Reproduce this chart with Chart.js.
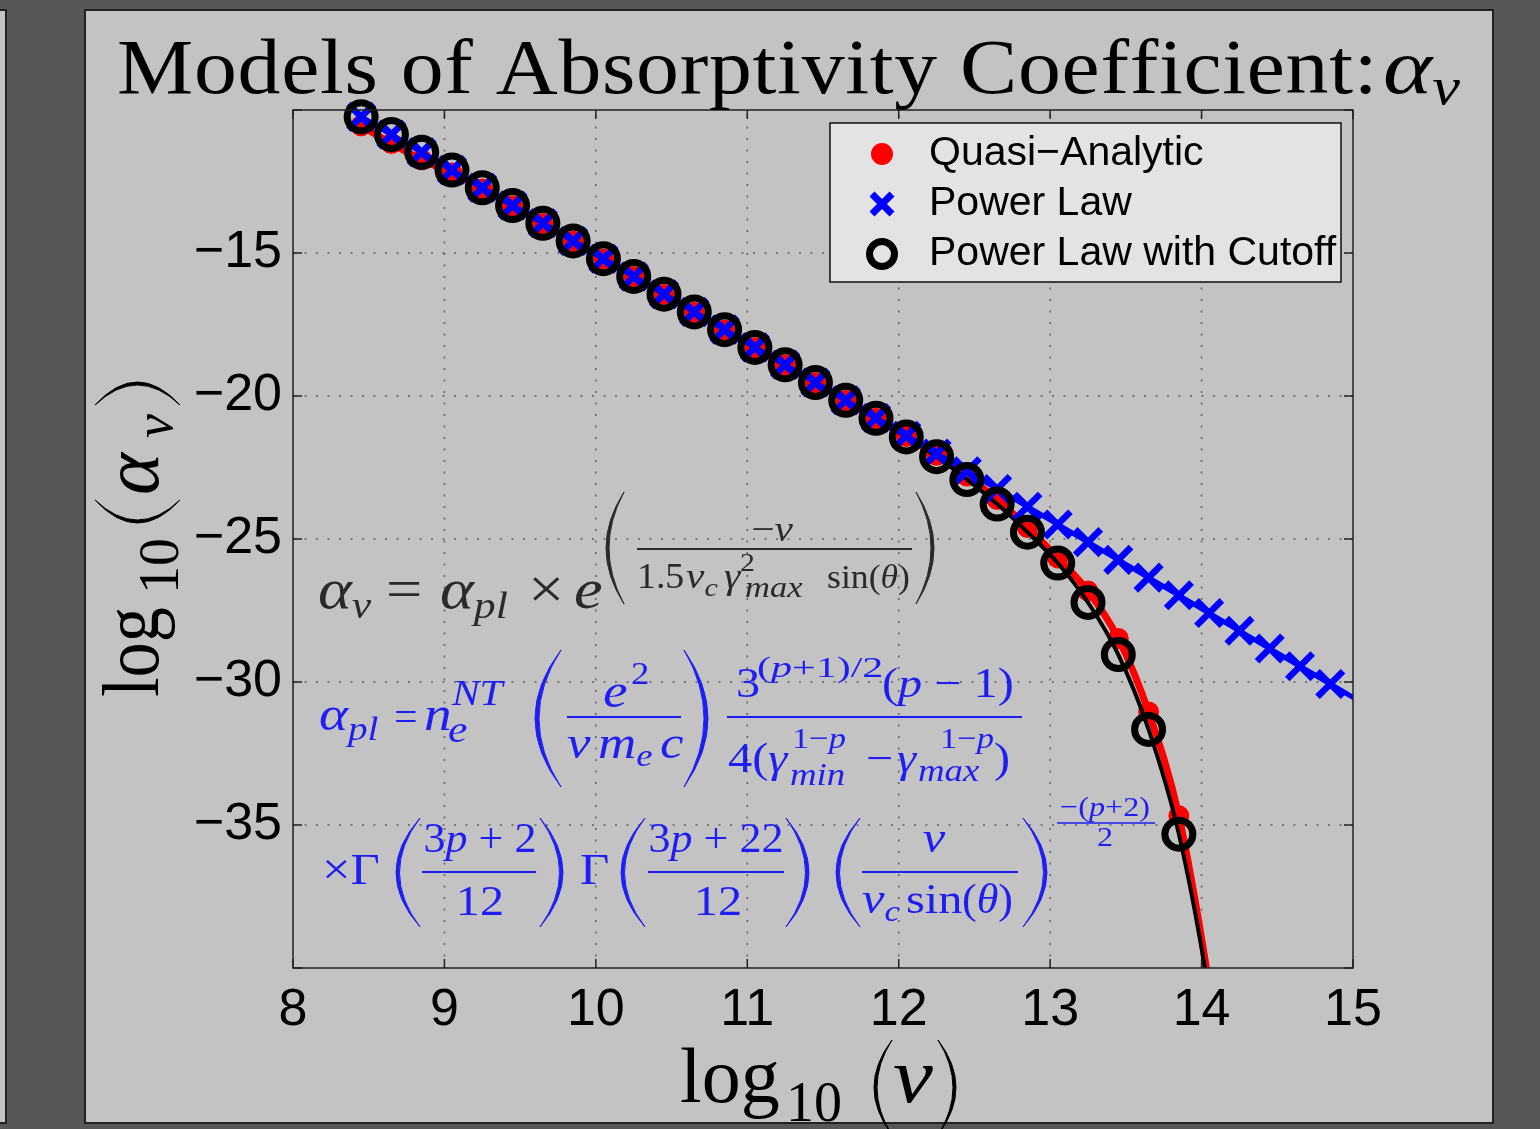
<!DOCTYPE html>
<html>
<head>
<meta charset="utf-8">
<script src="https://cdn.jsdelivr.net/npm/chart.js@4.4.1/dist/chart.umd.min.js"></script>
<style>
  html, body { margin: 0; padding: 0; background: #575757; }
  canvas { display: block; }
</style>
</head>
<body>
<canvas id="myChart" width="1540" height="1129"></canvas>
<script>
'use strict';

// log10(nu) at the marker positions
let nuMarks = [8.45, 8.65, 8.85, 9.05, 9.25, 9.45, 9.65, 9.85, 10.05, 10.25, 10.45,
  10.65, 10.85, 11.05, 11.25, 11.45, 11.65, 11.85, 12.05, 12.25, 12.45, 12.65,
  12.85, 13.05, 13.25, 13.45, 13.65, 13.85, 14.05, 14.25, 14.45, 14.65, 14.85];

// log10(alpha_nu)
let powerLaw = [-10.24, -10.86, -11.48, -12.10, -12.72, -13.34, -13.96, -14.58, -15.20,
  -15.82, -16.44, -17.06, -17.68, -18.30, -18.91, -19.53, -20.15, -20.77, -21.39,
  -22.01, -22.63, -23.25, -23.87, -24.49, -25.11, -25.73, -26.35, -26.97, -27.59,
  -28.21, -28.83, -29.45, -30.07];
let quasiAnalytic = [-10.55, -11.17, -11.74, -12.20, -12.76, -13.36, -13.97, -14.59,
  -15.21, -15.83, -16.45, -17.07, -17.69, -18.31, -18.92, -19.54, -20.16, -20.79,
  -21.42, -22.07, -22.80, -23.62, -24.60, -25.66, -26.82, -28.48, -31.05, -34.68];
let cutoff = [-10.24, -10.86, -11.48, -12.10, -12.72, -13.34, -13.96, -14.58, -15.20,
  -15.82, -16.44, -17.06, -17.68, -18.30, -18.91, -19.53, -20.15, -20.78, -21.43,
  -22.12, -22.92, -23.78, -24.76, -25.84, -27.22, -29.04, -31.66, -35.32];

// the curves run on past the last marker and leave the axes
let powerLawTailX = [15.05];
let powerLawTail = [-30.69];
let cutoffTailX = [14.05, 14.25];
let quasiAnalyticTail = [-40.6, -48.0];
let cutoffTail = [-40.9, -48.6];

let xTicks = [8, 9, 10, 11, 12, 13, 14, 15];
let yTicks = [-40, -35, -30, -25, -20, -15, -10];

let legendNames = ['Quasi\u2212Analytic', 'Power Law', 'Power Law with Cutoff'];

function toPoints(xs, ys) {
  let pts = [];
  for (let i = 0; i < ys.length; i++) {
    pts.push({ x: xs[i], y: ys[i] });
  }
  return pts;
}

let plPoints = toPoints(nuMarks, powerLaw);
let qaPoints = toPoints(nuMarks, quasiAnalytic);
let coPoints = toPoints(nuMarks, cutoff);
let plLine = plPoints.concat(toPoints(powerLawTailX, powerLawTail));
let qaLine = qaPoints.concat(toPoints(cutoffTailX, quasiAnalyticTail));
let coLine = coPoints.concat(toPoints(cutoffTailX, cutoffTail));

const SERIF = '"Liberation Serif", "Times New Roman", serif';
const SANS = '"Liberation Sans", Arial, sans-serif';
const EQ1 = '#2a2a2a';
const EQ2 = '#1e1ef2';
let stretch = 1.15;

function serif(size, italic) {
  return (italic ? 'italic ' : '') + size + 'px ' + SERIF;
}

// parts: [text, size, italic, dy, sx]; text is widened like TeX glyphs
function run(ctx, x, y, parts, color, align) {
  let w = 0;
  for (let p of parts) {
    ctx.font = serif(p[1], p[2]);
    w += ctx.measureText(p[0]).width * (p[4] || stretch);
  }
  let cx = align === 'center' ? x - w / 2 : x;
  ctx.fillStyle = color;
  ctx.textAlign = 'left';
  ctx.textBaseline = 'alphabetic';
  for (let p of parts) {
    let sx = p[4] || stretch;
    ctx.font = serif(p[1], p[2]);
    ctx.save();
    ctx.translate(cx, y + (p[3] || 0));
    ctx.scale(sx, 1);
    ctx.fillText(p[0], 0, 0);
    ctx.restore();
    cx += ctx.measureText(p[0]).width * sx;
  }
  return cx;
}

function hline(ctx, x0, x1, y, color, w) {
  ctx.strokeStyle = color;
  ctx.lineWidth = w || 2;
  ctx.beginPath();
  ctx.moveTo(x0, y);
  ctx.lineTo(x1, y);
  ctx.stroke();
}

// tall TeX style parenthesis between x0 and x1
function paren(ctx, x0, x1, top, bot, left, color, th) {
  let mid = (top + bot) / 2;
  ctx.fillStyle = color;
  ctx.strokeStyle = color;
  ctx.lineWidth = 1;
  ctx.beginPath();
  if (left) {
    let c = 2 * x0 - x1;
    ctx.moveTo(x1, top);
    ctx.quadraticCurveTo(c, mid, x1, bot);
    ctx.quadraticCurveTo(c + 2 * th, mid, x1, top);
  } else {
    let c = 2 * x1 - x0;
    ctx.moveTo(x0, top);
    ctx.quadraticCurveTo(c, mid, x0, bot);
    ctx.quadraticCurveTo(c - 2 * th, mid, x0, top);
  }
  ctx.fill();
  ctx.stroke();
}

function drawEquations(ctx) {
  // alpha_nu = alpha_pl x e^(...)
  run(ctx, 318, 608, [['\u03b1', 56, true], ['\u03bd', 38, true, 10]], EQ1);
  run(ctx, 386, 608, [['=', 56, false]], EQ1);
  run(ctx, 440, 608, [['\u03b1', 56, true], ['pl', 38, true, 10]], EQ1);
  run(ctx, 528, 608, [['\u00d7', 56, false]], EQ1);
  run(ctx, 574, 608, [['e', 56, true]], EQ1);
  paren(ctx, 606, 624, 492, 604, true, EQ1, 3);
  hline(ctx, 637, 912, 549, EQ1, 1.8);
  run(ctx, 772, 541, [['\u2212', 36, false], ['\u03bd', 36, true]], EQ1, 'center');
  run(ctx, 637, 588, [['1.5', 36, false, 0, 1.05]], EQ1);
  run(ctx, 686, 588, [['\u03bd', 36, true], ['c', 26, true, 8]], EQ1);
  run(ctx, 724, 588, [['\u03b3', 36, true]], EQ1);
  run(ctx, 740, 571, [['2', 26, false]], EQ1);
  run(ctx, 745, 597, [['max', 30, true]], EQ1);
  run(ctx, 827, 588, [['sin(', 34, false, 0, 1.05], ['\u03b8', 34, true, 0, 1.05], [')', 34, false, 0, 1.05]], EQ1);
  paren(ctx, 916, 934, 492, 604, false, EQ1, 3);

  // alpha_pl = ...
  run(ctx, 319, 730, [['\u03b1', 48, true], ['pl', 34, true, 10]], EQ2);
  run(ctx, 394, 730, [['=', 42, false, 0, 1.0]], EQ2);
  run(ctx, 424, 730, [['n', 48, true]], EQ2);
  run(ctx, 448, 742, [['e', 38, true]], EQ2);
  run(ctx, 452, 705, [['NT', 36, true]], EQ2);
  paren(ctx, 535, 561, 650, 787, true, EQ2, 4);
  hline(ctx, 567, 681, 717, EQ2, 2);
  run(ctx, 603, 707, [['e', 48, true]], EQ2);
  run(ctx, 631, 684, [['2', 32, false]], EQ2);
  run(ctx, 567, 758, [['\u03bd', 46, true]], EQ2);
  run(ctx, 598, 758, [['m', 46, true], ['e', 32, true, 8]], EQ2);
  run(ctx, 660, 758, [['c', 46, true]], EQ2);
  paren(ctx, 684, 708, 650, 787, false, EQ2, 4);
  hline(ctx, 727, 1022, 717, EQ2, 2);
  run(ctx, 736, 697, [['3', 42, false]], EQ2);
  run(ctx, 757, 677, [['(', 30, false, 0, 1.4], ['p', 30, true, 0, 1.4], ['+1)/2', 30, false, 0, 1.4]], EQ2);
  run(ctx, 882, 697, [['(', 42, false], ['p', 42, true], [' \u2212 1)', 42, false]], EQ2);
  run(ctx, 728, 772, [['4(', 42, false], ['\u03b3', 42, true]], EQ2);
  run(ctx, 792, 748, [['1\u2212', 30, false], ['p', 30, true]], EQ2);
  run(ctx, 790, 785, [['min', 32, true]], EQ2);
  run(ctx, 866, 772, [['\u2212', 42, false]], EQ2);
  run(ctx, 897, 772, [['\u03b3', 42, true]], EQ2);
  run(ctx, 940, 748, [['1\u2212', 30, false], ['p', 30, true]], EQ2);
  run(ctx, 918, 781, [['max', 32, true]], EQ2);
  run(ctx, 994, 772, [[')', 42, false]], EQ2);

  // x Gamma(...) Gamma(...) (...)^(-(p+2)/2)
  run(ctx, 322, 884, [['\u00d7\u0393', 44, false]], EQ2);
  paren(ctx, 396, 420, 818, 927, true, EQ2, 3.5);
  hline(ctx, 422, 536, 872, EQ2, 2);
  run(ctx, 480, 852, [['3', 42, false, 0, 1.05], ['p', 42, true, 0, 1.05], [' + 2', 42, false, 0, 1.05]], EQ2, 'center');
  run(ctx, 480, 915, [['12', 42, false]], EQ2, 'center');
  paren(ctx, 540, 563, 818, 927, false, EQ2, 3.5);
  run(ctx, 580, 884, [['\u0393', 44, false]], EQ2);
  paren(ctx, 621, 645, 818, 927, true, EQ2, 3.5);
  hline(ctx, 648, 784, 872, EQ2, 2);
  run(ctx, 716, 852, [['3', 42, false, 0, 1.05], ['p', 42, true, 0, 1.05], [' + 22', 42, false, 0, 1.05]], EQ2, 'center');
  run(ctx, 718, 915, [['12', 42, false]], EQ2, 'center');
  paren(ctx, 786, 809, 818, 927, false, EQ2, 3.5);
  paren(ctx, 836, 860, 818, 927, true, EQ2, 3.5);
  hline(ctx, 862, 1018, 872, EQ2, 2);
  run(ctx, 934, 852, [['\u03bd', 44, true]], EQ2, 'center');
  run(ctx, 862, 913, [['\u03bd', 44, true], ['c', 30, true, 8]], EQ2);
  run(ctx, 906, 913, [['sin', 42, false]], EQ2);
  run(ctx, 962, 913, [['(', 42, false, 0, 1.05], ['\u03b8', 42, true, 0, 1.05], [')', 42, false, 0, 1.05]], EQ2);
  paren(ctx, 1023, 1047, 818, 927, false, EQ2, 3.5);
  run(ctx, 1105, 816, [['\u2212(', 28, false], ['p', 28, true], ['+2)', 28, false]], EQ2, 'center');
  hline(ctx, 1057, 1155, 823, EQ2, 1.5);
  run(ctx, 1105, 846, [['2', 28, false]], EQ2, 'center');
}

function drawTitle(ctx) {
  let text = 'Models of Absorptivity Coefficient:';
  let sx = 1.1;
  ctx.font = serif(78, false);
  let w = ctx.measureText(text).width * sx;
  let sp = (1376 - 117 - w) / (text.length - 1);
  let x = 117;
  ctx.fillStyle = '#000';
  ctx.textAlign = 'left';
  ctx.textBaseline = 'alphabetic';
  for (let ch of text) {
    ctx.save();
    ctx.translate(x, 93);
    ctx.scale(sx, 1);
    ctx.fillText(ch, 0, 0);
    ctx.restore();
    x += ctx.measureText(ch).width * sx + sp;
  }
  run(ctx, 1383, 93, [['\u03b1', 78, true, 0, 1.2], ['\u03bd', 52, true, 11, 1.2]], '#000');
}

function drawAxisLabels(ctx) {
  // x label: log10(nu)
  run(ctx, 680, 1102, [['log', 78, false, 0, 1]], '#000');
  run(ctx, 786, 1121, [['10', 56, false, 0, 1]], '#000');
  paren(ctx, 874, 892, 1040, 1135, true, '#000', 3);
  run(ctx, 893, 1102, [['\u03bd', 78, true]], '#000');
  paren(ctx, 938, 956, 1040, 1135, false, '#000', 3);

  // y label: log10(alpha_nu), rotated
  ctx.save();
  ctx.translate(158, 700);
  ctx.rotate(-Math.PI / 2);
  run(ctx, 3, 0, [['log', 80, false, 0, 0.88]], '#000');
  run(ctx, 106, 20, [['10', 56, false, 0, 1]], '#000');
  paren(ctx, 177, 200, -63, 22, true, '#000', 3);
  run(ctx, 205, 0, [['\u03b1', 80, true, 0, 1]], '#000');
  run(ctx, 262, 14, [['\u03bd', 54, true, 0, 1]], '#000');
  paren(ctx, 295, 318, -63, 22, false, '#000', 3);
  ctx.restore();
}

function drawLegend(ctx) {
  let x0 = 830, y0 = 123, x1 = 1341, y1 = 282;
  ctx.fillStyle = '#e3e3e3';
  ctx.fillRect(x0, y0, x1 - x0, y1 - y0);
  ctx.strokeStyle = '#111';
  ctx.lineWidth = 1.5;
  ctx.strokeRect(x0, y0, x1 - x0, y1 - y0);

  let mx = 882;
  let rows = [154, 204, 254];
  // red dot
  ctx.fillStyle = '#ff0000';
  ctx.beginPath();
  ctx.arc(mx, rows[0], 11, 0, Math.PI * 2);
  ctx.fill();
  // blue cross
  ctx.strokeStyle = '#0000ff';
  ctx.lineWidth = 7;
  ctx.beginPath();
  ctx.moveTo(mx - 10, rows[1] - 10);
  ctx.lineTo(mx + 10, rows[1] + 10);
  ctx.moveTo(mx - 10, rows[1] + 10);
  ctx.lineTo(mx + 10, rows[1] - 10);
  ctx.stroke();
  // black ring
  ctx.strokeStyle = '#000';
  ctx.lineWidth = 7;
  ctx.beginPath();
  ctx.arc(mx, rows[2], 12.5, 0, Math.PI * 2);
  ctx.stroke();

  ctx.fillStyle = '#000';
  ctx.font = '41px ' + SANS;
  ctx.textAlign = 'left';
  ctx.textBaseline = 'middle';
  for (let i = 0; i < legendNames.length; i++) {
    ctx.fillText(legendNames[i], 929, rows[i]);
  }
}

const decoPlugin = {
  id: 'deco',
  beforeDraw(chart) {
    let ctx = chart.ctx;
    ctx.save();
    ctx.fillStyle = '#575757';
    ctx.fillRect(0, 0, chart.width, chart.height);
    ctx.fillStyle = '#c3c3c3';
    ctx.strokeStyle = '#222';
    ctx.lineWidth = 2;
    ctx.fillRect(85, 10, 1408, 1113);
    ctx.strokeRect(85, 10, 1408, 1113);
    ctx.fillRect(-10, 10, 16, 1113);
    ctx.strokeRect(-10, 10, 16, 1113);
    ctx.restore();
  },
  beforeDatasetsDraw(chart) {
    let ctx = chart.ctx;
    let a = chart.chartArea;
    let xs = chart.scales.x, ys = chart.scales.y;
    ctx.save();
    ctx.strokeStyle = '#606060';
    ctx.lineWidth = 1.5;
    ctx.setLineDash([2, 9.5]);
    for (let v of xTicks) {
      let px = xs.getPixelForValue(v);
      if (px <= a.left + 1 || px >= a.right - 1) continue;
      ctx.beginPath();
      ctx.moveTo(px, a.bottom);
      ctx.lineTo(px, a.top);
      ctx.stroke();
    }
    for (let v of yTicks) {
      let py = ys.getPixelForValue(v);
      if (py <= a.top + 1 || py >= a.bottom - 1) continue;
      ctx.beginPath();
      ctx.moveTo(a.left, py);
      ctx.lineTo(a.right, py);
      ctx.stroke();
    }
    ctx.setLineDash([]);
    drawEquations(ctx);
    ctx.restore();
  },
  afterDatasetsDraw(chart) {
    let ctx = chart.ctx;
    let a = chart.chartArea;
    let xs = chart.scales.x, ys = chart.scales.y;
    ctx.save();
    ctx.strokeStyle = '#222';
    ctx.lineWidth = 1.5;
    ctx.strokeRect(a.left, a.top, a.right - a.left, a.bottom - a.top);
    let tl = 9;
    ctx.beginPath();
    for (let v of xTicks) {
      let px = xs.getPixelForValue(v);
      ctx.moveTo(px, a.bottom);
      ctx.lineTo(px, a.bottom - tl);
      ctx.moveTo(px, a.top);
      ctx.lineTo(px, a.top + tl);
    }
    for (let v of yTicks) {
      let py = ys.getPixelForValue(v);
      ctx.moveTo(a.left, py);
      ctx.lineTo(a.left + tl, py);
      ctx.moveTo(a.right, py);
      ctx.lineTo(a.right - tl, py);
    }
    ctx.stroke();
    drawLegend(ctx);
    ctx.restore();
  },
  afterDraw(chart) {
    let ctx = chart.ctx;
    ctx.save();
    drawTitle(ctx);
    drawAxisLabels(ctx);
    ctx.restore();
  }
};

let ctx = document.getElementById('myChart').getContext('2d');
new Chart(ctx, {
  type: 'scatter',
  data: {
    datasets: [
      {
        label: legendNames[2],
        data: coPoints,
        showLine: false,
        pointStyle: 'circle',
        pointRadius: 14,
        pointBorderWidth: 7,
        pointBorderColor: '#000000',
        pointBackgroundColor: 'rgba(0,0,0,0)',
        clip: false,
        order: 1,
      },
      {
        label: legendNames[1],
        data: plPoints,
        showLine: false,
        pointStyle: 'crossRot',
        pointRadius: 18,
        pointBorderWidth: 6.5,
        pointBorderColor: '#0000ff',
        clip: false,
        order: 2,
      },
      {
        label: 'power law line',
        data: plLine,
        showLine: true,
        pointRadius: 0,
        borderColor: '#0000ff',
        borderWidth: 5,
        clip: 0,
        order: 3,
      },
      {
        label: 'cutoff line',
        data: coLine,
        showLine: true,
        pointRadius: 0,
        borderColor: '#000000',
        borderWidth: 4,
        cubicInterpolationMode: 'monotone',
        clip: 0,
        order: 4,
      },
      {
        label: legendNames[0],
        data: qaPoints,
        showLine: false,
        pointStyle: 'circle',
        pointRadius: 10.5,
        pointBorderWidth: 0,
        pointBackgroundColor: '#ff0000',
        clip: false,
        order: 5,
      },
      {
        label: 'quasi-analytic line',
        data: qaLine,
        showLine: true,
        pointRadius: 0,
        borderColor: '#ff0000',
        borderWidth: 7,
        cubicInterpolationMode: 'monotone',
        clip: 0,
        order: 6,
      },
    ],
  },
  options: {
    responsive: false,
    animation: false,
    events: [],
    layout: { padding: { left: 173, right: 187, top: 110, bottom: 81 } },
    plugins: {
      legend: { display: false },
      title: { display: false },
      tooltip: { enabled: false },
    },
    scales: {
      x: {
        type: 'linear',
        min: 8,
        max: 15,
        afterFit(scale) { scale.height = 80; },
        afterBuildTicks(scale) { scale.ticks = xTicks.map(v => ({ value: v })); },
        grid: { display: false, drawTicks: false },
        border: { display: false },
        ticks: {
          color: '#000',
          padding: 11,
          maxRotation: 0,
          autoSkip: false,
          font: { family: SANS, size: 52 },
        },
      },
      y: {
        type: 'linear',
        min: -40,
        max: -10,
        afterFit(scale) { scale.width = 120; },
        afterBuildTicks(scale) { scale.ticks = yTicks.map(v => ({ value: v })); },
        grid: { display: false, drawTicks: false },
        border: { display: false },
        ticks: {
          color: '#000',
          padding: 11,
          font: { family: SANS, size: 52 },
          callback: v => (v === -10 || v === -40) ? '' : '\u2212' + Math.abs(v),
        },
      },
    },
  },
  plugins: [decoPlugin],
});
</script>
</body>
</html>
